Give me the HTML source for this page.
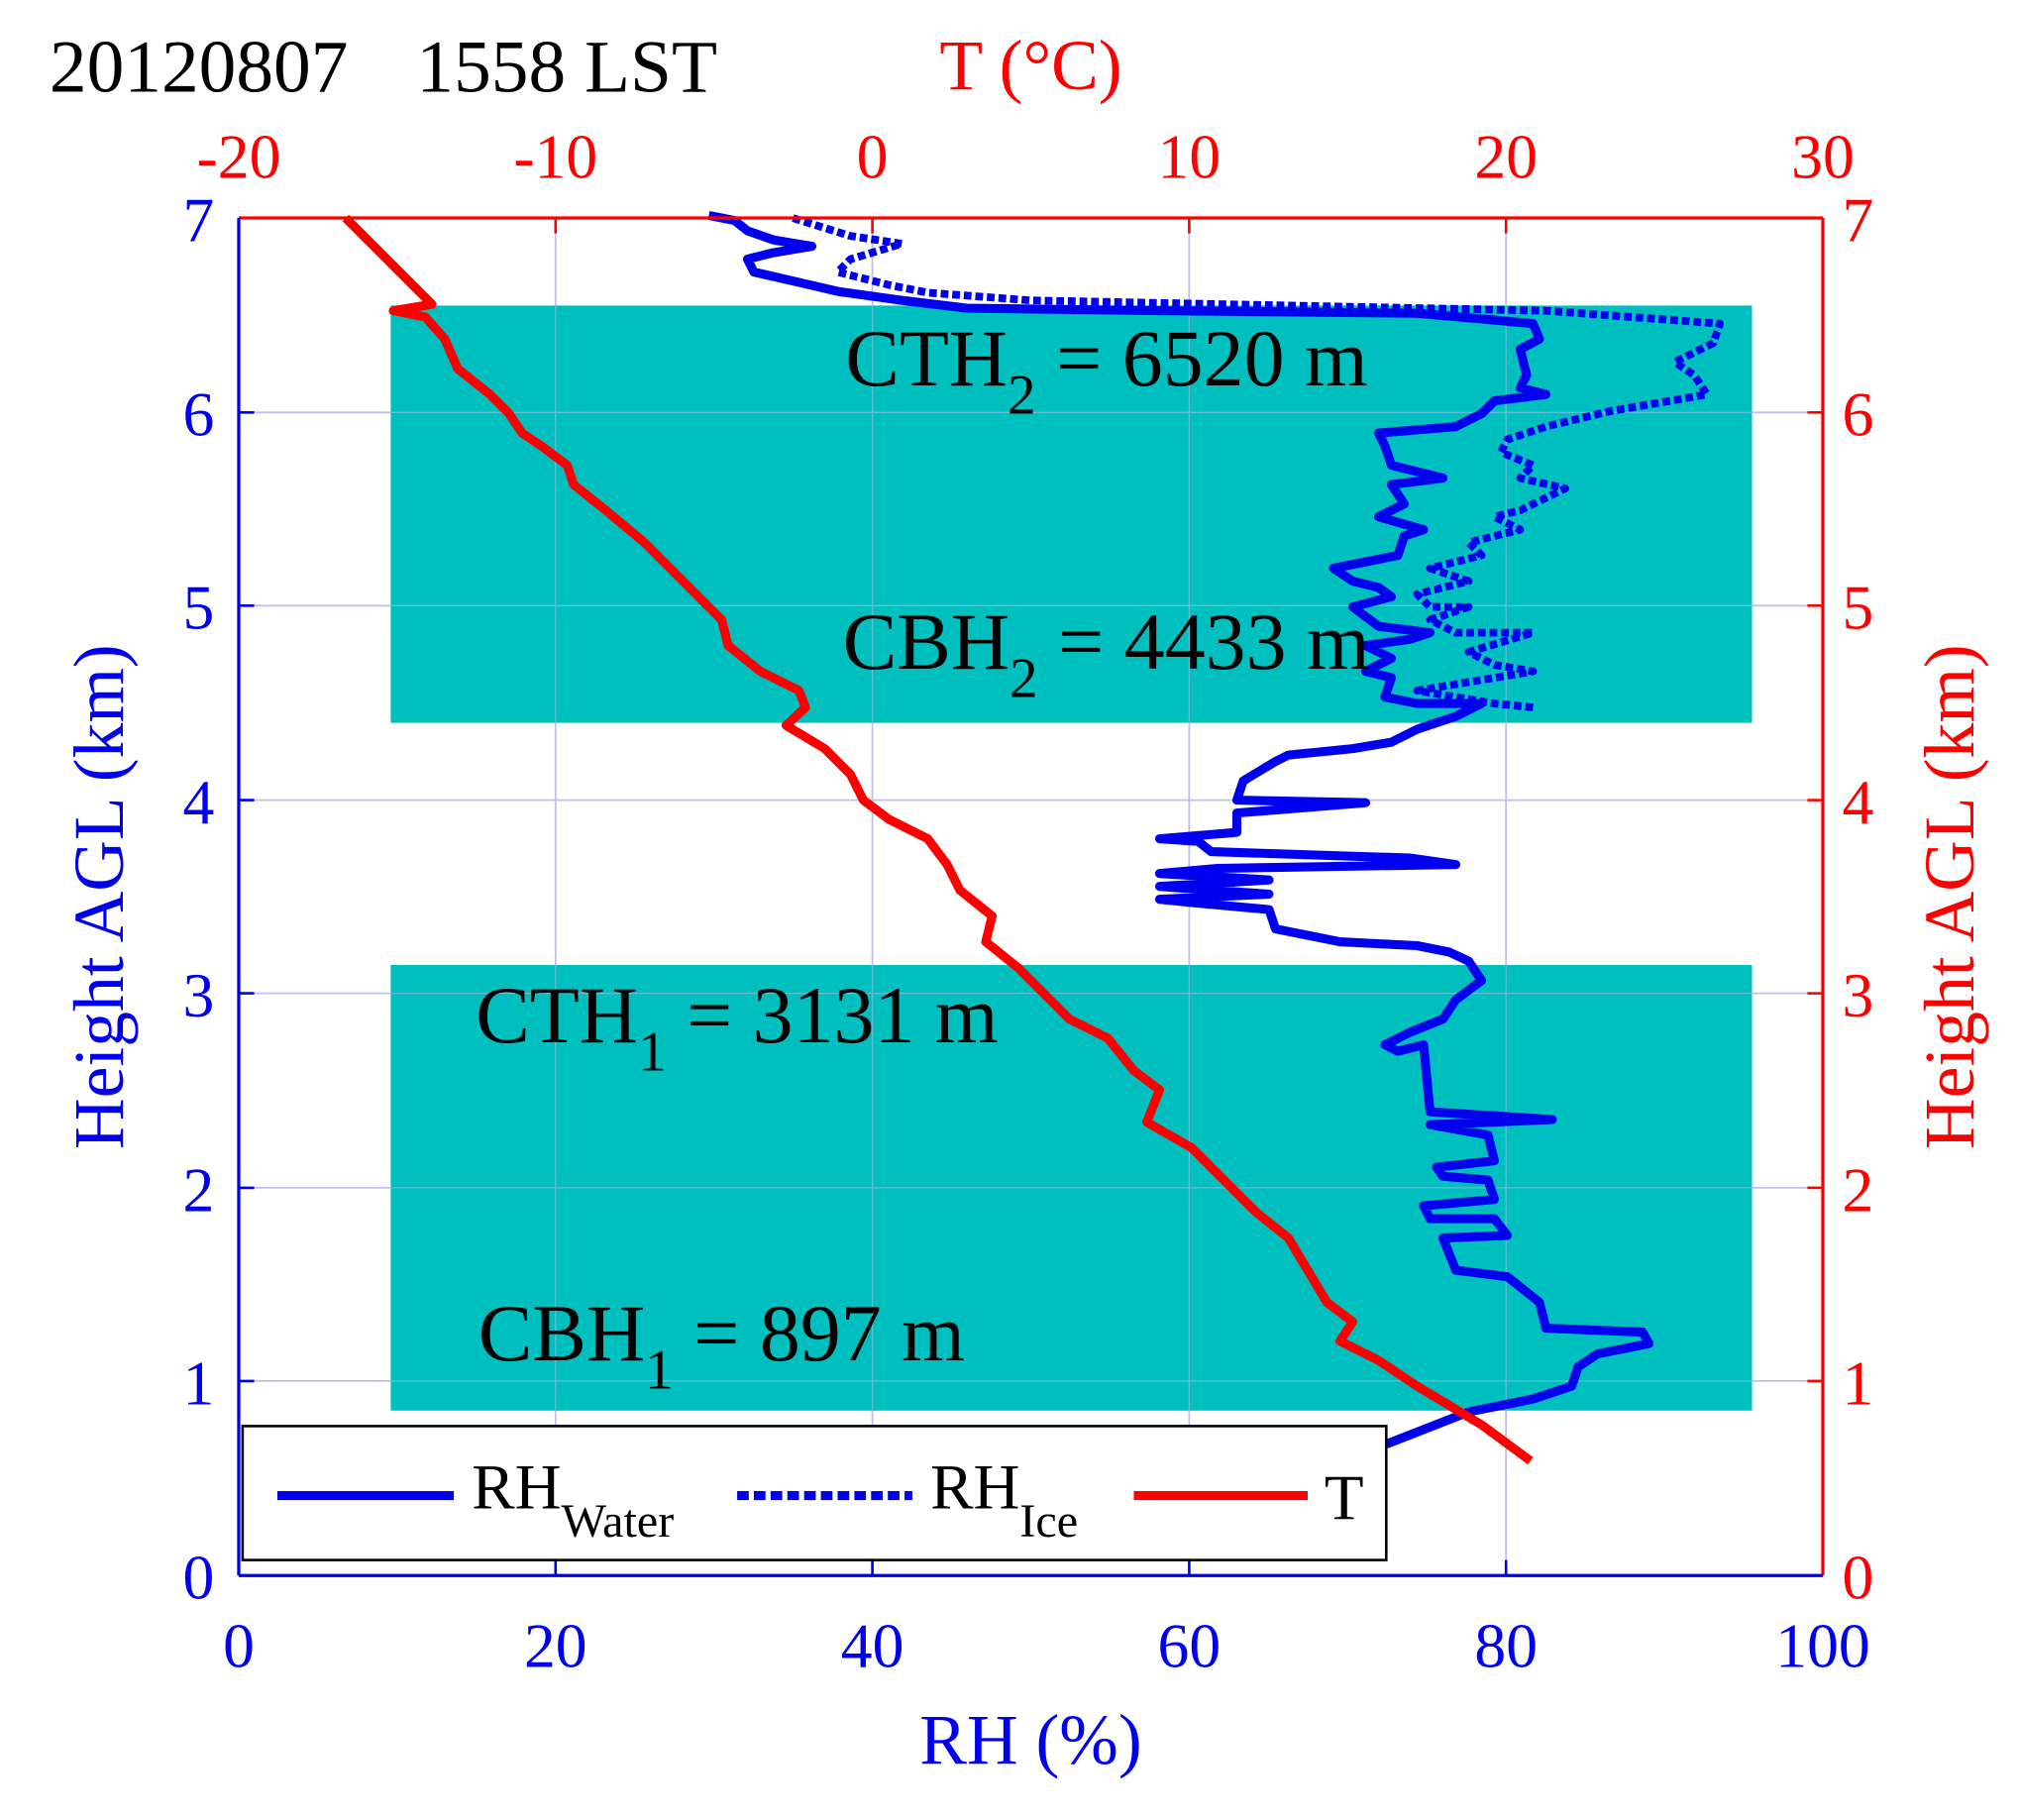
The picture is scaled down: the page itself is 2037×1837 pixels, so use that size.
<!DOCTYPE html>
<html><head><meta charset="utf-8"><style>html,body{margin:0;padding:0;background:#fff}svg{display:block}</style></head><body>
<svg width="2037" height="1837" viewBox="0 0 2037 1837" xmlns="http://www.w3.org/2000/svg" font-family="'Liberation Serif', serif">
<g transform="translate(0.5,1.6) scale(1.3)">
<!-- grid -->
<g stroke="#c0c0f0" stroke-width="1.4">
<line x1="431" y1="168" x2="431" y2="1222"/><line x1="677" y1="168" x2="677" y2="1222"/><line x1="923" y1="168" x2="923" y2="1222"/><line x1="1169" y1="168" x2="1169" y2="1222"/>
<line x1="185" y1="319" x2="1415" y2="319"/><line x1="185" y1="469" x2="1415" y2="469"/><line x1="185" y1="620" x2="1415" y2="620"/><line x1="185" y1="770" x2="1415" y2="770"/><line x1="185" y1="921" x2="1415" y2="921"/><line x1="185" y1="1071" x2="1415" y2="1071"/>
</g>
<rect x="303" y="236" width="1057" height="324" fill="#00BFBF"/>
<rect x="303" y="748" width="1057" height="346" fill="#00BFBF"/>
<g stroke="#c0c0f0" stroke-width="1" opacity="0.5">
<line x1="431" y1="168" x2="431" y2="1222"/><line x1="677" y1="168" x2="677" y2="1222"/><line x1="923" y1="168" x2="923" y2="1222"/><line x1="1169" y1="168" x2="1169" y2="1222"/>
<line x1="185" y1="319" x2="1415" y2="319"/><line x1="185" y1="469" x2="1415" y2="469"/><line x1="185" y1="620" x2="1415" y2="620"/><line x1="185" y1="770" x2="1415" y2="770"/><line x1="185" y1="921" x2="1415" y2="921"/><line x1="185" y1="1071" x2="1415" y2="1071"/>
</g>
<!-- RH ice -->
<polyline fill="none" stroke="#0000ee" stroke-width="6" stroke-dasharray="6,3" stroke-linejoin="round" points="1190,548 1160,545 1130,540 1100,535 1190,520 1160,515 1140,505 1190,490 1130,490 1110,480 1140,470 1110,470 1100,460 1140,450 1110,440 1150,430 1140,420 1180,410 1160,400 1180,395 1215,378 1180,370 1190,360 1165,350 1170,340 1200,330 1250,318 1325,305 1315,290 1300,280 1330,265 1335,250 1200,240 1000,236 800,232 720,226 690,220 650,210 660,200 700,188 660,182 615,168"/>
<!-- RH water -->
<polyline fill="none" stroke="#0000ee" stroke-width="7" stroke-linejoin="round" points="1076,1120 1140,1095 1190,1085 1220,1075 1225,1060 1240,1050 1280,1042 1275,1033 1200,1030 1195,1010 1170,990 1130,985 1120,960 1170,958 1160,945 1110,945 1105,935 1160,930 1155,915 1120,912 1115,905 1160,900 1155,880 1110,872 1205,868 1110,862 1105,810 1085,815 1075,810 1095,800 1120,790 1130,775 1150,760 1140,745 1125,738 1100,733 1040,730 990,720 985,705 930,700 900,697 985,693 940,690 900,687 985,682 900,677 945,673 1130,670 1095,665 940,660 930,652 900,650 960,645 960,630 1060,622 960,620 965,605 990,590 1000,585 1050,580 1080,575 1100,565 1130,555 1150,545 1100,545 1075,540 1080,525 1060,520 1080,510 1060,500 1095,495 1110,490 1070,485 1050,470 1080,462 1070,455 1050,450 1035,440 1085,430 1090,415 1105,410 1070,400 1090,390 1080,375 1120,370 1080,360 1075,345 1070,335 1130,330 1150,320 1160,310 1200,305 1180,300 1185,290 1180,270 1195,262 1190,250 1100,242 900,240 750,238 700,232 650,225 620,218 585,210 580,200 600,195 630,190 600,185 580,178 570,170 550,166"/>
<!-- T -->
<polyline fill="none" stroke="#ff0000" stroke-width="7" stroke-linejoin="round" points="268,168 290,190 315,215 335,235 305,240 330,245 345,262 355,285 380,305 395,320 405,335 420,345 440,360 445,375 470,395 500,420 520,440 545,465 560,480 565,500 590,520 620,535 625,548 610,562 640,580 660,600 670,620 690,635 720,650 735,670 745,690 770,710 765,730 790,750 810,770 830,790 860,805 880,830 900,845 890,870 925,890 955,920 975,940 1000,960 1015,985 1030,1010 1050,1025 1040,1040 1070,1055 1100,1075 1150,1105 1188,1133"/>
<!-- annotations -->
<g font-size="63" fill="#000">
<text x="656" y="298">CTH<tspan font-size="44" dy="22">2</tspan><tspan dy="-22"> = 6520 m</tspan></text>
<text x="654" y="518">CBH<tspan font-size="44" dy="22">2</tspan><tspan dy="-22"> = 4433 m</tspan></text>
<text x="369" y="808">CTH<tspan font-size="44" dy="22">1</tspan><tspan dy="-22"> = 3131 m</tspan></text>
<text x="371" y="1055">CBH<tspan font-size="44" dy="22">1</tspan><tspan dy="-22"> = 897 m</tspan></text>
</g>
<!-- axes -->
<line x1="185" y1="168" x2="1415" y2="168" stroke="#ff0000" stroke-width="2.5"/>
<line x1="1415" y1="168" x2="1415" y2="1222" stroke="#ff0000" stroke-width="2.5"/>
<line x1="185" y1="168" x2="185" y2="1222" stroke="#0000ee" stroke-width="2.5"/>
<line x1="185" y1="1222" x2="1415" y2="1222" stroke="#0000ee" stroke-width="2.5"/>
<g stroke="#0000ee" stroke-width="2">
<line x1="431" y1="1222" x2="431" y2="1210"/><line x1="677" y1="1222" x2="677" y2="1210"/><line x1="923" y1="1222" x2="923" y2="1210"/><line x1="1169" y1="1222" x2="1169" y2="1210"/>
<line x1="185" y1="319" x2="197" y2="319"/><line x1="185" y1="469" x2="197" y2="469"/><line x1="185" y1="620" x2="197" y2="620"/><line x1="185" y1="770" x2="197" y2="770"/><line x1="185" y1="921" x2="197" y2="921"/><line x1="185" y1="1071" x2="197" y2="1071"/>
</g>
<g stroke="#ff0000" stroke-width="2">
<line x1="431" y1="168" x2="431" y2="180"/><line x1="677" y1="168" x2="677" y2="180"/><line x1="923" y1="168" x2="923" y2="180"/><line x1="1169" y1="168" x2="1169" y2="180"/>
<line x1="1415" y1="319" x2="1403" y2="319"/><line x1="1415" y1="469" x2="1403" y2="469"/><line x1="1415" y1="620" x2="1403" y2="620"/><line x1="1415" y1="770" x2="1403" y2="770"/><line x1="1415" y1="921" x2="1403" y2="921"/><line x1="1415" y1="1071" x2="1403" y2="1071"/>
</g>
<!-- legend -->
<rect x="188" y="1106" width="888" height="104" fill="#fff" stroke="#000" stroke-width="2"/>
<line x1="215" y1="1160" x2="352" y2="1160" stroke="#0000ee" stroke-width="7"/>
<line x1="572" y1="1160" x2="708" y2="1160" stroke="#0000ee" stroke-width="7" stroke-dasharray="9,4"/>
<line x1="880" y1="1160" x2="1015" y2="1160" stroke="#ff0000" stroke-width="7"/>
<g font-size="50" fill="#000">
<text x="366" y="1170">RH<tspan font-size="37" dy="22">Water</tspan></text>
<text x="722" y="1170">RH<tspan font-size="37" dy="22">Ice</tspan></text>
<text x="1028" y="1178">T</text>
</g>
<!-- tick labels -->
<g font-size="49" fill="#0000ee" text-anchor="middle">
<text x="185" y="1293">0</text><text x="431" y="1293">20</text><text x="677" y="1293">40</text><text x="923" y="1293">60</text><text x="1169" y="1293">80</text><text x="1415" y="1293">100</text>
</g>
<g font-size="49" fill="#0000ee" text-anchor="end">
<text x="166" y="1240">0</text><text x="166" y="1089">1</text><text x="166" y="939">2</text><text x="166" y="788">3</text><text x="166" y="638">4</text><text x="166" y="487">5</text><text x="166" y="337">6</text><text x="166" y="186">7</text>
</g>
<g font-size="49" fill="#ff0000" text-anchor="middle">
<text x="185" y="137">-20</text><text x="431" y="137">-10</text><text x="677" y="137">0</text><text x="923" y="137">10</text><text x="1169" y="137">20</text><text x="1415" y="137">30</text>
</g>
<g font-size="49" fill="#ff0000" text-anchor="start">
<text x="1430" y="1240">0</text><text x="1430" y="1089">1</text><text x="1430" y="939">2</text><text x="1430" y="788">3</text><text x="1430" y="638">4</text><text x="1430" y="487">5</text><text x="1430" y="337">6</text><text x="1430" y="186">7</text>
</g>
<text x="800" y="1368" font-size="55" fill="#0000ee" text-anchor="middle">RH (%)</text>
<text x="800" y="68" font-size="55" fill="#ff0000" text-anchor="middle">T (°C)</text>
<text x="38" y="70" font-size="58" fill="#000">20120807</text>
<text x="323" y="70" font-size="58" fill="#000">1558 LST</text>
<text transform="translate(95,695) rotate(-90)" font-size="55" fill="#0000ee" text-anchor="middle">Height AGL (km)</text>
<text transform="translate(1532,695) rotate(-90)" font-size="55" fill="#ff0000" text-anchor="middle">Height AGL (km)</text>
</g>
</svg>
</body></html>
